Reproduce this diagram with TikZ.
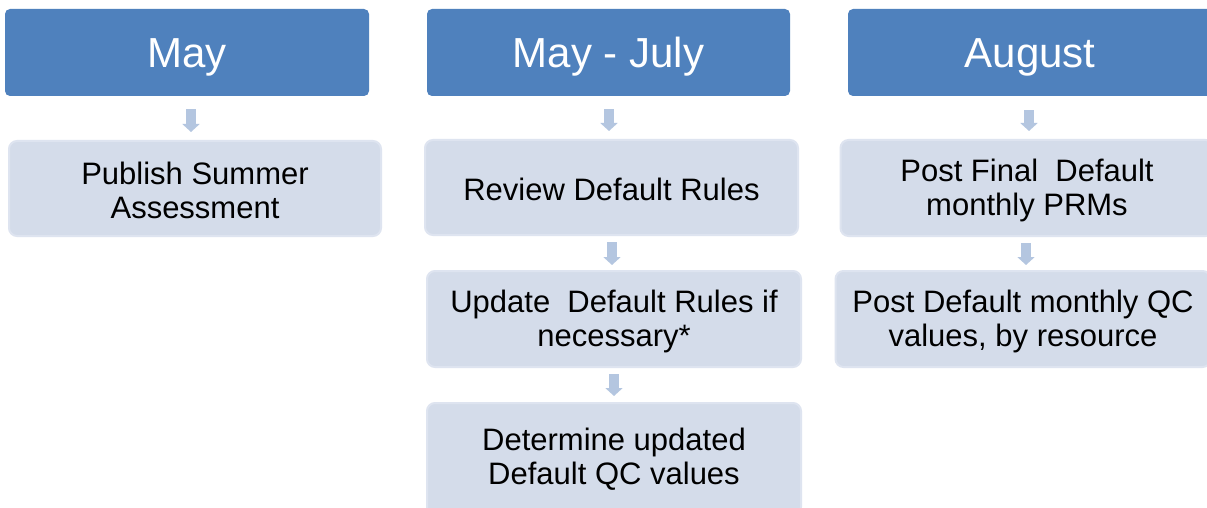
\documentclass[tikz,border=0pt]{standalone}
\usepackage{fontspec}
\setmainfont{Liberation Sans}
\usetikzlibrary{arrows.meta,calc}
\definecolor{hdrblue}{HTML}{4F81BD}
\definecolor{subfill}{HTML}{D4DCEA}
\definecolor{subedge}{HTML}{DEE4F0}
\definecolor{arrblue}{HTML}{B4C6E0}
\newcommand{\topstr}{\rule{0pt}{26.6pt}}
\begin{document}
\begin{tikzpicture}[x=1pt,y=-1pt,
  hdr/.style={rectangle, rounded corners=5pt, fill=hdrblue, draw=none, text=white,
    font=\fontsize{42}{46}\selectfont, align=center, inner sep=0pt,
    text height=30pt, text depth=0pt},
  subbox/.style={rectangle, rounded corners=8pt, fill=subfill, draw=subedge, line width=2pt,
    text=black, font=\fontsize{31}{34}\selectfont, align=center, inner sep=0pt},
  blk/.style={draw=arrblue, line width=10pt, -{Triangle[length=8pt,width=17pt]}}]
\useasboundingbox[fill=white] (0,0) rectangle (1207,508);
% headers
\node[hdr, minimum width=364pt, minimum height=87pt] (h1) at (187,52.5) {May};
\node[hdr, minimum width=363pt, minimum height=87pt] (h2) at (608.5,52.5) {May - July};
\node[hdr, minimum width=364pt, minimum height=87pt] (h3) at (1030,52.5) {August};
% sub boxes
\node[subbox, minimum width=372pt, minimum height=95pt] (b1) at (195,188.5) {\topstr Publish Summer\\Assessment};
\node[subbox, minimum width=373pt, minimum height=95pt] (b2) at (611.5,187.5) {\topstr Review Default Rules};
\node[subbox, minimum width=374pt, minimum height=96pt] (b3) at (614,319) {\topstr Update\ \ Default Rules if\\necessary*};
\node[subbox, minimum width=374pt, minimum height=112pt] (b4) at (614,459) {Determine updated\\Default QC values};
\node[subbox, minimum width=373pt, minimum height=96pt] (b5) at (1027,188) {\topstr Post Final\ \ Default\\monthly PRMs};
\node[subbox, minimum width=375pt, minimum height=96pt] (b6) at (1023,319) {\topstr Post Default monthly QC\\values, by resource};
% arrows
\coordinate (a1) at (191,0);
\coordinate (a2) at (609,0);
\coordinate (a3) at (612,0);
\coordinate (a4) at (614,0);
\coordinate (a5) at (1029,0);
\coordinate (a6) at (1026,0);
\draw[blk, shorten <=13pt, shorten >=8pt] (a1 |- h1.south) -- (a1 |- b1.north);
\draw[blk, shorten <=13pt, shorten >=8pt] (a2 |- h2.south) -- (a2 |- b2.north);
\draw[blk, shorten <=6pt, shorten >=5pt] (a3 |- b2.south) -- (a3 |- b3.north);
\draw[blk, shorten <=6pt, shorten >=6pt] (a4 |- b3.south) -- (a4 |- b4.north);
\draw[blk, shorten <=14pt, shorten >=8pt] (a5 |- h3.south) -- (a5 |- b5.north);
\draw[blk, shorten <=6pt, shorten >=5pt] (a6 |- b5.south) -- (a6 |- b6.north);
\end{tikzpicture}
\end{document}
